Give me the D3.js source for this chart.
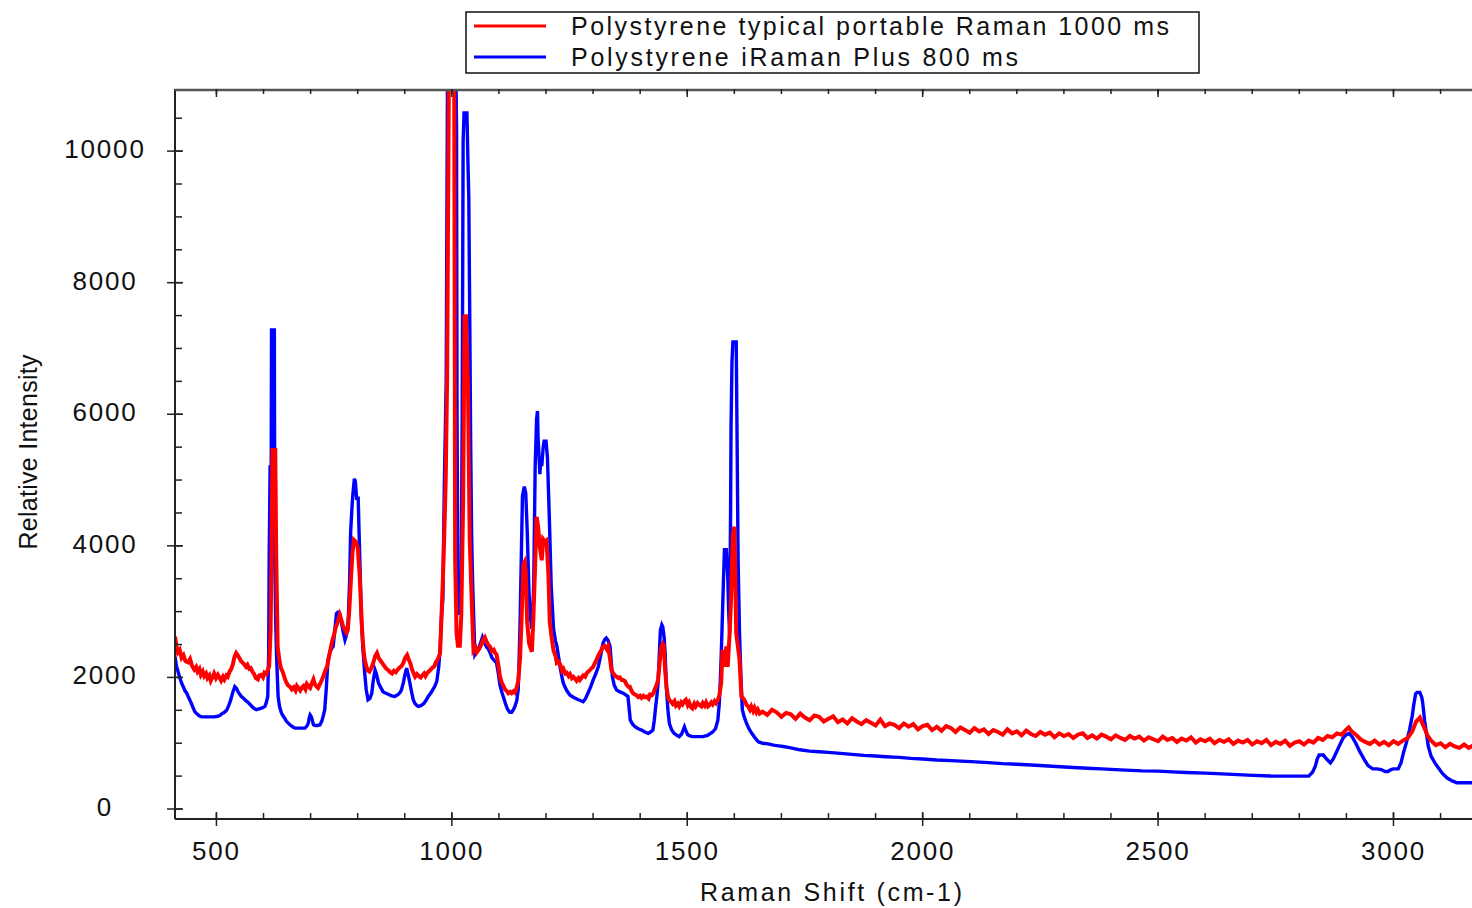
<!DOCTYPE html>
<html>
<head>
<meta charset="utf-8">
<script src="https://cdn.jsdelivr.net/npm/d3@7"></script>
<style>
  body { margin: 0; background: #fff; }
  text { font-family: "Liberation Sans", Arial, sans-serif; fill: #111; }
</style>
</head>
<body>
<script>
//************************************************************
// Data: [Raman shift (cm-1), relative intensity]
//************************************************************
var redLabel = "Polystyrene typical portable Raman 1000 ms";
var blueLabel = "Polystyrene iRaman Plus 800 ms";

var redSpectrum = [
	[412,2620],[415,2480],[418,2380],[422,2420],[426,2300],[430,2340],[434,2250],[440,2230],[444,2280],[448,2180],
	[453,2120],[457,2160],[460,2087],[464,2130],[467,2040],[471,2090],[474,2020],[478,2060],[481,1990],[485,2030],
	[488,1950],[492,2010],[495,2060],[499,1990],[503,2040],[507,1990],[510,1950],[514,2010],[517,1970],[521,2030],
	[524,2010],[528,2090],[531,2120],[535,2200],[538,2300],[542,2370],[545,2340],[549,2290],[552,2250],[556,2220],
	[559,2200],[563,2160],[566,2190],[570,2130],[573,2140],[577,2080],[580,2050],[584,1990],[588,1970],[591,2030],
	[595,2040],[599,2000],[602,2070],[606,2050],[609,2110],[612,2170],[615,2700],[617,3835],[619,5457],[625,5457],
	[627,3835],[630,2467],[634,2250],[637,2140],[641,2080],[645,1990],[648,1930],[652,1880],[656,1860],[660,1820],
	[664,1850],[668,1800],[671,1870],[675,1830],[678,1800],[682,1850],[685,1870],[689,1820],[692,1900],[696,1860],
	[699,1840],[703,1920],[706,1970],[709,1900],[713,1860],[716,1840],[720,1900],[724,1960],[727,2020],[731,2100],
	[735,2170],[738,2270],[742,2420],[746,2560],[750,2650],[753,2750],[757,2830],[762,2950],[765,2880],[769,2780],
	[773,2720],[776,2680],[779,2720],[782,3000],[786,3530],[789,3900],[792,4090],[796,4060],[800,3980],[804,3580],
	[807,3100],[809,2770],[812,2450],[815,2260],[818,2180],[821,2110],[825,2090],[829,2140],[833,2220],[837,2320],
	[841,2370],[845,2290],[849,2250],[853,2210],[857,2170],[861,2130],[865,2110],[869,2080],[873,2060],[877,2100],
	[881,2080],[885,2120],[889,2150],[893,2170],[897,2220],[901,2300],[905,2340],[908,2280],[912,2210],[915,2130],
	[919,2060],[922,2010],[926,2050],[930,2020],[934,2000],[937,2030],[941,2060],[944,2020],[948,2070],[951,2090],
	[955,2120],[959,2150],[963,2170],[966,2230],[970,2270],[973,2330],[975,2370],[978,2920],[981,3500],[984,4190],
	[987,5000],[990,6570],[994,11500],[1005,11500],[1007,3800],[1010,2675],[1013,2480],[1017,2480],[1020,2930],[1024,4700],
	[1027,7490],[1030,7490],[1034,6520],[1038,4100],[1043,3000],[1046,2410],[1050,2450],[1053,2380],[1057,2420],[1060,2460],
	[1064,2520],[1067,2580],[1070,2610],[1074,2540],[1077,2500],[1081,2470],[1085,2400],[1089,2420],[1092,2370],[1095,2350],
	[1099,2180],[1102,2020],[1106,1920],[1109,1880],[1113,1820],[1117,1790],[1120,1760],[1124,1780],[1127,1760],[1131,1790],
	[1134,1770],[1138,1850],[1141,1950],[1145,2300],[1148,2870],[1152,3720],[1155,3760],[1157,3600],[1160,2840],[1164,2520],
	[1167,2450],[1170,2390],[1173,2870],[1177,3720],[1180,4440],[1183,4310],[1187,3980],[1191,3780],[1194,4100],[1198,4060],
	[1201,4080],[1205,3590],[1208,2840],[1212,2600],[1216,2410],[1220,2330],[1223,2220],[1227,2240],[1230,2200],[1234,2100],
	[1237,2130],[1241,2060],[1244,2070],[1248,2020],[1251,2050],[1255,1990],[1258,2010],[1262,1980],[1265,1950],[1269,1990],
	[1272,1960],[1276,2000],[1279,2030],[1283,2010],[1286,2060],[1290,2090],[1293,2110],[1297,2140],[1300,2160],[1304,2220],
	[1307,2260],[1311,2330],[1314,2370],[1318,2420],[1321,2470],[1325,2480],[1329,2430],[1332,2470],[1336,2280],[1339,2110],
	[1343,2060],[1346,2030],[1350,2010],[1354,1990],[1357,2000],[1361,1960],[1364,1960],[1368,1940],[1371,1890],[1375,1860],
	[1378,1860],[1382,1790],[1385,1760],[1389,1740],[1392,1730],[1396,1700],[1400,1720],[1403,1690],[1407,1720],[1410,1700],
	[1414,1710],[1418,1680],[1421,1740],[1425,1730],[1428,1760],[1431,1820],[1435,1890],[1438,1960],[1441,2200],[1445,2470],
	[1448,2510],[1450,2490],[1453,2110],[1456,1850],[1459,1710],[1462,1650],[1466,1630],[1469,1600],[1473,1640],[1476,1570],
	[1480,1600],[1483,1560],[1487,1620],[1490,1590],[1494,1640],[1497,1660],[1501,1580],[1504,1620],[1508,1550],[1511,1530],
	[1515,1600],[1518,1560],[1522,1610],[1526,1580],[1530,1560],[1533,1610],[1537,1570],[1540,1620],[1544,1560],[1547,1580],
	[1551,1620],[1554,1590],[1558,1640],[1561,1610],[1565,1660],[1568,1720],[1572,1910],[1575,2420],[1579,2160],[1583,2470],
	[1586,2160],[1590,2670],[1593,3180],[1597,4190],[1600,4290],[1602,3500],[1604,2670],[1607,2500],[1611,2270],[1615,1710],
	[1618,1690],[1622,1650],[1626,1580],[1629,1560],[1633,1510],[1636,1560],[1640,1490],[1643,1540],[1647,1470],[1650,1510],
	[1654,1450],[1660,1480],[1670,1430],[1680,1510],[1690,1470],[1700,1400],[1710,1460],[1720,1440],[1730,1370],[1740,1450],
	[1750,1390],[1760,1350],[1770,1420],[1780,1400],[1790,1330],[1800,1370],[1810,1410],[1820,1320],[1830,1360],[1840,1300],
	[1850,1380],[1860,1330],[1870,1290],[1880,1350],[1890,1310],[1900,1270],[1910,1360],[1920,1260],[1930,1300],[1940,1280],
	[1950,1230],[1960,1300],[1970,1250],[1980,1290],[1990,1210],[2000,1260],[2010,1280],[2020,1200],[2030,1250],[2040,1190],
	[2050,1260],[2060,1230],[2070,1170],[2080,1240],[2090,1200],[2100,1160],[2110,1230],[2120,1180],[2130,1210],[2140,1140],
	[2150,1200],[2160,1170],[2170,1130],[2180,1210],[2190,1150],[2200,1180],[2210,1120],[2220,1190],[2230,1140],[2240,1110],
	[2250,1170],[2260,1130],[2270,1160],[2280,1090],[2290,1150],[2300,1110],[2310,1140],[2320,1080],[2330,1130],[2340,1150],
	[2350,1080],[2360,1120],[2370,1070],[2380,1130],[2390,1100],[2400,1060],[2410,1120],[2420,1080],[2430,1050],[2440,1110],
	[2450,1070],[2460,1100],[2470,1040],[2480,1090],[2490,1060],[2500,1030],[2510,1100],[2520,1050],[2530,1080],[2540,1020],
	[2550,1070],[2560,1040],[2570,1090],[2580,1010],[2590,1060],[2600,1030],[2610,1070],[2620,1000],[2630,1050],[2640,1020],
	[2650,1060],[2660,990],[2670,1040],[2680,1010],[2690,1050],[2700,980],[2710,1030],[2720,1000],[2730,1050],[2740,970],
	[2750,1020],[2760,990],[2770,1040],[2780,960],[2790,1010],[2800,1030],[2810,980],[2820,1040],[2830,1010],[2840,1080],
	[2850,1050],[2860,1110],[2870,1090],[2880,1150],[2890,1130],[2900,1210],[2905,1240],[2910,1190],[2920,1130],[2930,1060],
	[2940,1020],[2950,990],[2960,1040],[2970,980],[2980,1020],[2990,970],[3000,1030],[3010,990],[3020,1040],[3030,1080],
	[3040,1180],[3048,1330],[3056,1390],[3064,1260],[3072,1120],[3080,1040],[3090,970],[3100,1000],[3110,940],[3120,990],
	[3130,950],[3140,930],[3150,980],[3160,930],[3170,970],[3180,940],[3190,960],[3200,930]
];

var blueSpectrum = [
	[412,2315],[415,2180],[418,2100],[422,2000],[426,1915],[430,1850],[433,1800],[437,1760],[440,1710],[444,1650],
	[447,1600],[451,1530],[454,1480],[458,1450],[461,1430],[465,1410],[469,1400],[478,1400],[486,1400],[495,1400],
	[503,1410],[507,1420],[512,1450],[517,1470],[522,1505],[526,1570],[530,1650],[535,1780],[539,1860],[543,1830],
	[546,1780],[550,1740],[553,1710],[558,1680],[562,1650],[566,1630],[570,1600],[574,1570],[578,1540],[582,1520],
	[585,1510],[589,1520],[594,1530],[598,1540],[603,1560],[606,1620],[609,1710],[611,2400],[612,3800],[614,5200],
	[615,5200],[616,4200],[617,7280],[623,7280],[624,3740],[626,2800],[628,2270],[631,1710],[634,1560],[638,1460],
	[641,1420],[645,1380],[648,1340],[652,1310],[656,1280],[660,1260],[664,1240],[667,1230],[672,1230],[680,1230],
	[688,1230],[692,1260],[695,1300],[697,1380],[699,1430],[701,1410],[703,1370],[706,1280],[710,1270],[715,1270],
	[720,1280],[724,1340],[727,1420],[730,1510],[733,1800],[737,2270],[741,2380],[744,2430],[748,2470],[751,2700],
	[755,2970],[758,2990],[762,2970],[765,2850],[769,2700],[773,2570],[776,2640],[780,2870],[783,3500],[785,4200],
	[788,4600],[790,4800],[793,5020],[795,4980],[798,4700],[801,4750],[803,4200],[805,3680],[808,2870],[811,2450],
	[815,2060],[818,1820],[822,1660],[826,1680],[830,1760],[833,1950],[837,2110],[840,2050],[844,1920],[848,1860],
	[854,1780],[860,1760],[866,1740],[872,1720],[879,1710],[886,1740],[890,1770],[893,1810],[897,1920],[901,2060],
	[904,2140],[908,2020],[911,1910],[915,1760],[918,1660],[922,1600],[926,1570],[929,1560],[934,1570],[940,1600],
	[945,1650],[950,1710],[955,1760],[960,1820],[964,1870],[968,1940],[972,2150],[975,2420],[978,2920],[981,3200],
	[984,4900],[988,6500],[991,11500],[1008,11500],[1010,10360],[1011,6000],[1013,3400],[1015,2950],[1018,3100],[1020,3400],
	[1022,6000],[1024,10170],[1026,10580],[1032,10580],[1034,9900],[1036,9300],[1038,7500],[1040,5550],[1042,4170],[1044,3500],
	[1046,3000],[1049,2350],[1053,2400],[1057,2450],[1060,2500],[1065,2610],[1070,2520],[1074,2460],[1077,2440],[1081,2380],
	[1085,2300],[1090,2260],[1095,2220],[1099,2050],[1102,1890],[1106,1780],[1110,1690],[1114,1600],[1118,1520],[1123,1470],
	[1127,1470],[1130,1500],[1134,1560],[1138,1650],[1141,1820],[1143,2300],[1145,2870],[1148,4000],[1150,4760],[1154,4900],
	[1157,4800],[1160,4240],[1164,3270],[1167,2900],[1170,2740],[1172,2950],[1174,3460],[1177,5210],[1180,5930],[1182,6050],
	[1183,5670],[1187,5090],[1189,5300],[1191,5210],[1194,5500],[1196,5590],[1200,5590],[1203,5350],[1205,4900],[1207,4440],
	[1211,3400],[1216,2740],[1220,2560],[1223,2480],[1227,2300],[1230,2150],[1234,2000],[1237,1910],[1244,1800],[1251,1730],
	[1260,1690],[1269,1660],[1279,1630],[1284,1680],[1289,1760],[1295,1860],[1300,1960],[1306,2060],[1311,2160],[1316,2330],
	[1321,2520],[1325,2580],[1328,2600],[1332,2560],[1336,2470],[1339,2200],[1341,2010],[1345,1880],[1350,1810],[1357,1780],
	[1364,1760],[1370,1730],[1374,1710],[1377,1500],[1379,1350],[1384,1290],[1389,1250],[1396,1220],[1403,1200],[1410,1170],
	[1417,1150],[1422,1170],[1427,1200],[1430,1350],[1433,1560],[1436,1750],[1438,1910],[1441,2400],[1443,2720],[1446,2800],
	[1448,2770],[1451,2600],[1453,2370],[1456,1810],[1459,1500],[1462,1300],[1467,1200],[1472,1150],[1478,1120],[1483,1100],
	[1488,1140],[1494,1250],[1497,1190],[1501,1130],[1506,1110],[1511,1100],[1520,1100],[1533,1100],[1543,1120],[1554,1170],
	[1560,1220],[1565,1350],[1568,1600],[1570,1910],[1572,2300],[1574,2770],[1577,3500],[1579,3940],[1583,3940],[1586,3530],
	[1588,3000],[1590,2670],[1592,4500],[1593,5810],[1595,6800],[1597,7100],[1604,7100],[1606,5500],[1608,3790],[1611,2670],
	[1614,2000],[1617,1510],[1621,1400],[1626,1300],[1631,1220],[1637,1150],[1644,1080],[1651,1020],[1660,1000],[1672,990],
	[1683,970],[1694,960],[1704,950],[1720,930],[1739,900],[1760,880],[1780,870],[1800,860],[1825,845],[1850,830],
	[1875,815],[1900,805],[1921,795],[1950,785],[1975,770],[2000,760],[2030,745],[2060,735],[2103,720],[2140,705],
	[2170,690],[2200,680],[2240,665],[2284,645],[2320,630],[2350,620],[2380,610],[2420,595],[2466,580],[2500,575],
	[2530,565],[2560,555],[2600,545],[2647,530],[2690,515],[2738,502],[2780,500],[2820,500],[2828,560],[2834,650],
	[2838,760],[2842,820],[2851,820],[2858,760],[2866,700],[2872,760],[2878,850],[2885,960],[2893,1080],[2900,1130],
	[2906,1150],[2912,1100],[2920,1000],[2928,880],[2938,750],[2946,660],[2956,610],[2965,610],[2974,600],[2982,570],
	[2988,570],[2995,600],[3000,610],[3010,610],[3016,700],[3021,850],[3027,1000],[3034,1200],[3040,1420],[3043,1580],
	[3047,1750],[3050,1770],[3056,1770],[3060,1700],[3062,1620],[3066,1350],[3070,1150],[3074,950],[3080,800],[3088,700],
	[3094,640],[3104,540],[3114,470],[3124,430],[3134,400],[3150,400],[3166,400],[3205,400]
];

var xTickValues = [500, 1000, 1500, 2000, 2500, 3000];
var yTickValues = [0, 2000, 4000, 6000, 8000, 10000];

//************************************************************
// Frame and scales
//************************************************************
const W = 1472, H = 908;
const plot = { left: 175, top: 89, right: 1490, bottom: 819 };

const xScale = d3.scaleLinear()
	.domain([412, 3205])
	.range([plot.left, plot.right]);

const yScale = d3.scaleLinear()
	.domain([-152, 10944])
	.range([plot.bottom, plot.top]);

const svg = d3.select("body").append("svg")
	.attr("width", W)
	.attr("height", H);

svg.append("rect").attr("width", W).attr("height", H).attr("fill", "#fff");

svg.append("defs").append("clipPath")
	.attr("id", "clip")
	.append("rect")
	.attr("x", plot.left)
	.attr("y", plot.top)
	.attr("width", plot.right - plot.left)
	.attr("height", plot.bottom - plot.top);

// minor ticks every 100 / 500
const xMinor = d3.range(500, 3201, 100);
const yMinor = d3.range(0, 10501, 500);

//************************************************************
// Lines
//************************************************************
const line = d3.line()
	.x(function (d) { return xScale(d[0]); })
	.y(function (d) { return yScale(d[1]); });

const lines = svg.append("g").attr("clip-path", "url(#clip)");

lines.append("path")
	.datum(blueSpectrum)
	.attr("fill", "none")
	.attr("stroke", "#0000ff")
	.attr("stroke-width", 3.4)
	.attr("d", line);

lines.append("path")
	.datum(redSpectrum)
	.attr("fill", "none")
	.attr("stroke", "#ff0000")
	.attr("stroke-width", 4)
	.attr("d", line);

//************************************************************
// Axes (drawn by hand to mimic the inward tick style)
//************************************************************
const axisColor = "#222";

// frame: left, bottom, top
svg.append("line").attr("x1", plot.left).attr("x2", plot.left).attr("y1", plot.top).attr("y2", plot.bottom)
	.attr("stroke", axisColor).attr("stroke-width", 2);
svg.append("line").attr("x1", plot.left).attr("x2", plot.right).attr("y1", plot.bottom).attr("y2", plot.bottom)
	.attr("stroke", axisColor).attr("stroke-width", 2);
svg.append("line").attr("x1", plot.left).attr("x2", plot.right).attr("y1", plot.top + 1).attr("y2", plot.top + 1)
	.attr("stroke", "#555").attr("stroke-width", 2.5);

// y ticks
svg.append("g").selectAll("line").data(yMinor).enter().append("line")
	.attr("x1", plot.left).attr("x2", plot.left + 7)
	.attr("y1", function (d) { return yScale(d); })
	.attr("y2", function (d) { return yScale(d); })
	.attr("stroke", axisColor).attr("stroke-width", 1.5);
svg.append("g").selectAll("line").data(yTickValues).enter().append("line")
	.attr("x1", plot.left - 8).attr("x2", plot.left + 8)
	.attr("y1", function (d) { return yScale(d); })
	.attr("y2", function (d) { return yScale(d); })
	.attr("stroke", axisColor).attr("stroke-width", 1.5);
svg.append("g").selectAll("text").data(yTickValues).enter().append("text")
	.attr("x", 105)
	.attr("y", function (d) { return yScale(d) + 7; })
	.attr("text-anchor", "middle")
	.attr("font-size", 26)
	.attr("letter-spacing", 1.8)
	.text(function (d) { return d; });

// x ticks (bottom)
svg.append("g").selectAll("line").data(xMinor).enter().append("line")
	.attr("x1", function (d) { return xScale(d); })
	.attr("x2", function (d) { return xScale(d); })
	.attr("y1", plot.bottom).attr("y2", plot.bottom - 6)
	.attr("stroke", axisColor).attr("stroke-width", 1.5);
svg.append("g").selectAll("line").data(xTickValues).enter().append("line")
	.attr("x1", function (d) { return xScale(d); })
	.attr("x2", function (d) { return xScale(d); })
	.attr("y1", plot.bottom + 7).attr("y2", plot.bottom - 7)
	.attr("stroke", axisColor).attr("stroke-width", 1.5);
svg.append("g").selectAll("text").data(xTickValues).enter().append("text")
	.attr("x", function (d) { return xScale(d); })
	.attr("y", 860)
	.attr("text-anchor", "middle")
	.attr("font-size", 26)
	.attr("letter-spacing", 1.8)
	.text(function (d) { return d; });

// x ticks (top, inward)
svg.append("g").selectAll("line").data(xMinor).enter().append("line")
	.attr("x1", function (d) { return xScale(d); })
	.attr("x2", function (d) { return xScale(d); })
	.attr("y1", plot.top).attr("y2", plot.top + 5)
	.attr("stroke", axisColor).attr("stroke-width", 1.5);
svg.append("g").selectAll("line").data(xTickValues).enter().append("line")
	.attr("x1", function (d) { return xScale(d); })
	.attr("x2", function (d) { return xScale(d); })
	.attr("y1", plot.top).attr("y2", plot.top + 8)
	.attr("stroke", axisColor).attr("stroke-width", 1.5);

// axis titles
svg.append("text")
	.attr("x", 831).attr("y", 901)
	.attr("text-anchor", "middle")
	.attr("font-size", 25)
	.attr("textLength", 262).attr("lengthAdjust", "spacing")
	.text("Raman Shift (cm-1)");

svg.append("text")
	.attr("transform", "translate(37,452) rotate(-90)")
	.attr("text-anchor", "middle")
	.attr("font-size", 25)
	.attr("textLength", 195).attr("lengthAdjust", "spacing")
	.text("Relative Intensity");

//************************************************************
// Legend
//************************************************************
const legend = svg.append("g");
legend.append("rect")
	.attr("x", 466).attr("y", 12)
	.attr("width", 733).attr("height", 61)
	.attr("fill", "#fff").attr("stroke", "#111").attr("stroke-width", 1.5);

const legendItems = [
	{ label: redLabel, color: "#ff0000", y: 26, len: 598 },
	{ label: blueLabel, color: "#0000ff", y: 57, len: 447 }
];

legendItems.forEach(function (it) {
	legend.append("line")
		.attr("x1", 474).attr("x2", 546)
		.attr("y1", it.y).attr("y2", it.y)
		.attr("stroke", it.color).attr("stroke-width", 3);
	legend.append("text")
		.attr("x", 571).attr("y", it.y + 9)
		.attr("font-size", 25)
		.attr("textLength", it.len).attr("lengthAdjust", "spacing")
		.text(it.label);
});
</script>
</body>
</html>
